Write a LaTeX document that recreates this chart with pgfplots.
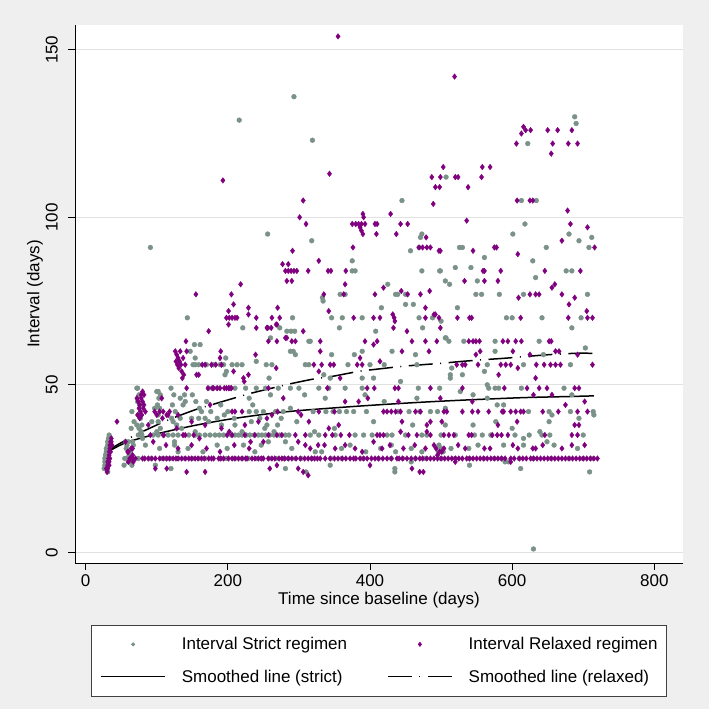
\documentclass[border=0pt]{standalone}
\usepackage{pgfplots}
\pgfplotsset{compat=1.18}
\usepackage{fontspec}
\setmainfont{Liberation Sans}
\definecolor{bgc}{RGB}{239,239,239}
\definecolor{strictc}{RGB}{122,146,136}
\definecolor{relaxc}{RGB}{128,0,128}
\definecolor{gridc}{RGB}{226,226,226}
\newcommand{\fs}{\fontsize{17}{20}\selectfont}
\pgfplotsset{
  lineleg/.style={legend image code/.code={\draw[##1] (0pt,0pt) -- (64pt,0pt);}},
  smarkleg/.style={legend image code/.code={\path[draw=none,fill=none] (0pt,-2pt) rectangle (64pt,2pt);
    \draw[mark repeat=2,mark phase=2,##1,mark size=1.6pt] plot coordinates {(0pt,0pt) (32pt,0pt) (64pt,0pt)};}},
  rmarkleg/.style={legend image code/.code={\path[draw=none,fill=none] (0pt,-2pt) rectangle (64pt,2pt);
    \draw[mark repeat=2,mark phase=2,##1,mark size=2pt] plot coordinates {(0pt,0pt) (32pt,0pt) (64pt,0pt)};}},
}
\begin{document}
\begin{tikzpicture}
\fill[bgc] (0,0) rectangle (709pt,709pt);
\begin{axis}[
  at={(75pt,146pt)}, anchor=south west,
  width=608pt, height=538pt, scale only axis,
  xmin=-15.05, xmax=840.4, ymin=-3.19, ymax=157.4,
  axis x line*=bottom, axis y line*=left,
  axis line style={black, line width=1pt, -},
  axis background/.style={fill=white},
  xtick={0,200,400,600,800}, ytick={0,50,100,150},
  tick align=outside, major tick length=7pt,
  tick style={black, line width=0.9pt},
  minor tick num=0,
  ymajorgrids, grid style={gridc, line width=1pt},
  /pgf/number format/assume math mode=true,
  tick label style={font=\fs},
  yticklabel style={rotate=90, anchor=south, inner sep=0pt},
  xticklabel style={anchor=north, inner sep=0pt},
  xticklabel shift=4pt, yticklabel shift=10pt,
  xlabel={Time since baseline (days)},
  ylabel={Interval (days)},
  label style={font=\fs},
  xlabel style={at={(axis description cs:0.5,-0.0688)}, anchor=center},
  ylabel style={at={(axis description cs:-0.0658,0.5)}, anchor=center},
  legend columns=2, legend cell align=left,
  legend style={at={(0.5,-0.1812)}, anchor=center, draw=black!75, line width=0.8pt,
    fill=white, font=\fs, inner xsep=9pt, inner ysep=12.5pt, row sep=18.5pt,
    nodes={inner sep=0pt},
    /tikz/every odd column/.append style={column sep=16pt},
    /tikz/every even column/.append style={column sep=40pt}},
]
% Strict regimen
\addplot[only marks, mark=*, mark size=2.4pt, color=strictc, smarkleg]
coordinates {
(91,91) (216,129) (256,95) (293,136) (319,123) (318,93) (445,105) (507,112) (613,105) (634,105) (622,122) (688,130) (690,128) (630,1)
(375,87) (375,84) (379,84) (457,90) (469,91) (471,94) (473,95) (473,84) (498,84) (499,84) (520,85) (526,91) (530,91) (542,85) (561,88) (601,95) (618,98) (629,87) (648,91) (676,84) (684,84) (680,95) (694,93) (708,91) (712,94)
(425,80) (436,77) (439,77) (450,77) (450,74) (461,74) (416,73) (333,76) (358,77) (365,77) (334,75) (469,70) (488,70) (506,81) (512,80) (551,81) (633,82) (549,77) (557,77) (582,77) (616,77) (706,77) (523,73) (592,70) (600,70) (642,70) (697,70) (291,70) (346,70) (361,70) (389,70) (143,70)
(221,67) (357,67) (408,66) (474,67) (283,66) (289,66) (294,66) (256,67) (273,67) (260,64) (500,69) (684,67) (507,64) (316,63) (314,63) (153,62) (161,62) (532,63) (506,64) (511,63) (576,63) (638,63)
(147,60) (154,58) (154,56) (159,56) (151,56) (170,56) (180,56) (189,56) (194,56) (206,56) (213,56) (220,56) (197,58) (292,60) (295,59) (288,60) (346,59) (378,59) (389,60) (431,60) (464,59) (309,56) (314,56) (369,56) (400,56) (420,56) (466,56) (515,55) (565,56) (616,56) (682,56) (576,60) (644,59) (703,61) (254,56) (262,56) (240,57)
(196,53) (258,52) (335,53) (344,52) (389,52) (405,52) (443,51) (513,53) (513,52) (530,53) (561,54) (198,54)
(73,49) (173,49) (210,49) (225,49) (240,49) (253,49) (271,49) (288,49) (328,49) (342,49) (365,49) (389,49) (468,49) (498,49) (565,50) (567,49) (576,49) (581,49) (613,49) (673,49) (185,49) (300,49)
(102,48) (105,47) (139,47) (140,45) (308,47) (337,46) (393,47) (466,46) (527,48) (545,47) (565,46) (684,47) (579,44) (588,44) (260,47) (230,46) (420,45)
(65,42) (97,43) (102,41) (163,42) (195,41) (230,42) (240,42) (250,42) (267,42) (278,42) (288,43) (320,42) (338,42) (348,42) (357,42) (367,42) (377,42) (395,42) (485,42) (495,42) (506,43) (623,42) (652,42) (656,41) (682,42) (714,42) (715,41) (694,40) (121,40) (133,40) (149,40) (159,40) (168,40) (440,42) (455,42) (470,42)
(68,39) (64,37) (79,38) (93,39) (135,37) (154,36) (173,39) (191,38) (209,40) (233,39) (252,37) (297,39) (405,39) (506,38) (545,38) (577,39) (652,39) (270,38) (350,37) (460,38) (600,37)
(79,35) (95,35) (102,35) (116,35) (123,35) (130,35) (145,35) (154,35) (168,35) (182,35) (194,35) (210,35) (220,35) (231,35) (243,35) (253,35) (259,35) (281,35) (316,35) (322,36) (328,35) (351,35) (379,35) (391,35) (403,35) (424,35) (431,35) (450,35) (473,35) (547,35) (558,35) (604,35) (616,34) (624,35) (639,36) (642,35) (653,35) (480,35) (500,35) (520,35) (570,35) (700,35)
(60,33) (57,31) (63,30) (67,32) (84,32) (104,31) (125,32) (144,31) (165,30) (185,32) (199,31) (222,32) (238,30) (247,32) (257,33) (281,33) (290,31) (323,30) (332,30) (360,31) (372,32) (394,30) (415,31) (430,32) (436,30) (458,31) (473,30) (496,30) (514,31) (539,31) (552,32) (588,32) (616,32) (649,33) (659,32) (692,31) (500,31) (503,30) (497,32)
(26,25) (27,26) (27,27) (28,28) (28,29) (29,29) (29,30) (30,30) (30,31) (31,32) (31,33) (32,33) (32,34) (33,35) (27,28) (29,31) (30,28) (28,26)
(55,28) (58,28) (60,28) (74,28) (91,28) (107,28) (119,28) (140,28) (159,28) (168,28) (198,28) (210,28) (229,28) (248,28) (268,28) (285,28) (303,28) (318,28) (345,28) (360,28) (390,28) (412,28) (430,28) (446,28) (464,28) (478,28) (500,28) (520,28) (540,28) (560,28) (575,28) (585,28) (610,28) (630,28) (655,28) (680,28) (700,28) (712,28) (590,27) (595,27)
(281,25) (344,26) (435,25) (435,24) (612,25) (709,24) (60,27) (65,26) (98,26) (120,25) (310,24) (458,27) (540,26)
(72,49) (75,47) (73,45) (76,44) (74,41) (77,40) (72,38) (75,37) (78,36) (74,35) (80,34) (56,33) (58,32) (61,29) (64,27) (54,26) (66,33)
(100,48) (103,46) (101,44) (104,43) (102,39) (105,37) (100,36)
(120,49) (124,47) (122,44) (126,42) (123,39) (128,38) (125,33) (130,30) (133,46) (137,44)
(150,47) (155,45) (160,43) (170,45) (176,42) (185,40) (190,44) (200,42) (210,38) (220,36) (235,44) (245,40) (255,38) (265,36) (275,40)
(160,35) (175,35) (188,35) (205,35) (215,35) (226,35) (237,35) (248,35) (265,35) (273,35) (286,35)
(112,28) (130,28) (150,28) (190,28) (220,28) (240,28) (258,28) (278,28) (295,28)
(31,24) (29,27) (33,32) (35,34)
};
\addlegendentry{Interval Strict regimen}
% Relaxed regimen
\addplot[only marks, mark=diamond*, mark size=2.8pt, color=relaxc, rmarkleg]
coordinates {
(355,154) (519,142) (343,113) (193,111) (306,105) (489,104) (503,115) (487,112) (499,112) (520,112) (524,112) (557,112) (558,115) (569,115) (492,109) (498,109) (538,109) (607,105) (625,105) (629,105) (613,125) (616,127) (619,126) (626,126) (606,122) (650,126) (664,126) (684,126) (679,122) (692,122) (657,122) (655,119)
(301,100) (310,98) (390,101) (391,100) (375,98) (380,98) (384,98) (388,98) (393,98) (386,97) (388,96) (390,95) (407,98) (410,98) (429,101) (443,98) (453,98) (409,95) (437,95) (479,94) (678,102) (536,99) (682,98) (706,97)
(469,91) (474,91) (480,91) (485,91) (497,90) (291,90) (376,91) (328,87) (277,86) (285,86) (281,84) (285,84) (289,84) (293,84) (297,84) (283,81) (290,81) (313,84) (341,84) (345,84) (366,84) (499,90) (545,90) (575,91) (578,91) (608,89) (670,93) (716,91) (559,84) (561,84) (584,84) (646,84) (696,84) (533,81) (561,81) (580,81)
(218,80) (155,77) (205,77) (208,74) (229,73) (365,80) (419,79) (444,78) (484,78) (453,77) (471,77) (407,77) (335,77) (363,77) (478,73) (660,80) (656,79) (625,77) (633,77) (638,77) (609,76) (670,77) (688,76) (680,74) (705,72) (270,73) (342,72) (490,71)
(201,72) (198,70) (202,70) (206,70) (210,70) (213,70) (229,71) (240,70) (240,67) (256,67) (173,66) (201,68) (262,70) (273,70) (269,68) (255,67) (261,67) (306,66) (281,64) (478,70) (497,70) (377,70) (405,70) (414,70) (432,71) (434,70) (435,69) (433,67) (452,66) (492,71) (523,70) (540,70) (543,70) (612,70) (679,70) (706,70) (713,70) (499,67) (141,63) (257,63) (269,63) (283,64) (290,63) (295,63) (330,63) (393,63) (405,62) (410,63) (459,63) (478,63) (494,63) (539,63) (545,63) (549,63) (554,63) (587,63) (594,63) (605,63) (613,63) (652,63) (655,63) (268,68)
(126,60) (128,59) (130,58) (132,57) (134,56) (131,55) (135,54) (138,53) (136,52) (129,56) (127,57) (133,60) (137,58) (140,56) (142,60) (156,53) (159,53) (164,56) (168,56) (177,56) (183,56) (191,56) (189,58) (190,60) (239,59) (222,52) (229,53) (223,51) (330,60) (386,58) (445,60) (483,60) (321,56) (332,56) (344,56) (349,56) (382,56) (389,56) (414,57) (328,54) (358,52) (555,60) (549,59) (601,60) (625,59) (661,60) (666,60) (692,59) (522,56) (530,56) (534,56) (552,56) (584,56) (591,56) (598,56) (608,55) (634,56) (645,56) (654,56) (661,56) (668,56) (713,56) (581,53) (633,52) (208,54) (268,55)
(142,49) (180,49) (189,49) (195,49) (201,49) (205,49) (257,49) (396,49) (406,49) (435,49) (440,49) (485,49) (530,49) (589,49) (621,49) (638,49) (649,49) (688,49) (694,49) (82,47) (107,46) (340,49)
(72,46) (74,45) (76,44) (78,46) (80,45) (82,44) (75,43) (77,42) (79,41) (81,43) (84,42) (73,41) (76,40) (78,47) (80,48) (175,44) (278,46) (365,45) (384,45) (499,46) (544,45) (630,47) (656,47) (702,45) (675,44) (397,46) (440,45)
(109,42) (114,41) (130,41) (206,42) (210,42) (220,42) (262,41) (299,42) (303,41) (328,42) (350,42) (419,42) (424,42) (430,42) (436,42) (443,42) (464,42) (471,42) (504,42) (508,42) (530,42) (544,42) (552,42) (567,42) (586,42) (588,42) (598,42) (605,42) (612,42) (616,42) (643,42) (665,42) (692,42) (706,42) (270,42)
(44,39) (88,38) (108,40) (128,37) (149,39) (168,38) (191,37) (202,36) (224,38) (243,39) (255,40) (314,39) (342,37) (356,38) (445,39) (480,38) (485,39) (501,39) (607,39) (688,38) (694,38) (580,38)
(91,35) (109,35) (137,35) (140,35) (152,35) (199,35) (206,35) (224,35) (238,35) (257,35) (269,35) (276,35) (295,35) (309,35) (337,35) (347,35) (359,35) (371,35) (410,35) (414,35) (419,35) (443,36) (454,35) (466,35) (480,36) (485,35) (504,35) (511,35) (518,35) (539,35) (543,35) (572,35) (579,35) (585,35) (594,35) (646,35) (684,35) (692,35)
(56,33) (60,30) (66,31) (95,33) (113,32) (130,31) (149,32) (170,31) (189,30) (209,32) (230,31) (250,33) (299,33) (309,32) (316,31) (327,32) (336,32) (351,31) (365,32) (379,31) (389,30) (405,33) (417,31) (428,32) (447,31) (463,32) (478,31) (490,32) (501,30) (504,31) (524,32) (534,31) (561,31) (569,31) (601,32) (608,31) (629,31) (633,31) (643,32) (670,31) (684,32) (702,32) (495,29) (498,30) (493,31)
(30,24) (31,25) (31,26) (32,27) (32,28) (33,29) (33,30) (34,31) (34,32) (35,33) (36,33) (31,27) (33,27) (29,25)
(63,28) (66,28) (70,28) (83,28) (98,28) (104,28) (109,28) (114,28) (123,28) (130,28) (135,28) (145,28) (149,28) (154,28) (163,28) (173,28) (180,28) (187,28) (194,28) (201,28) (206,28) (215,28) (220,28) (227,28) (234,28) (243,28) (250,28) (257,28) (262,28) (272,28) (280,28) (290,28) (296,28) (308,28) (313,28) (322,28) (330,28) (337,28) (350,28) (355,28) (366,28) (372,28) (380,28) (386,28) (396,28) (402,28) (407,28) (418,28) (424,28) (438,28) (441,28) (452,28) (458,28) (470,28) (474,28) (485,28) (490,28) (495,28) (505,28) (510,28) (515,28) (525,28) (530,28) (536,28) (545,28) (550,28) (555,28) (565,28) (570,28) (580,28) (590,28) (598,28) (603,28) (615,28) (620,28) (626,28) (635,28) (640,28) (645,28) (650,28) (660,28) (665,28) (670,28) (675,28) (685,28) (690,28) (695,28) (705,28) (710,28) (715,28) (720,28)
(98,25) (114,25) (142,24) (168,24) (259,25) (269,26) (299,25) (313,23) (306,24) (459,25) (598,27) (470,24) (475,24) (520,27) (400,26)
(36,34) (37,32) (35,30) (34,28) (33,26) (59,30) (62,28) (64,31) (66,29) (60,27) (67,27)
(97,42) (100,41) (104,42) (118,42) (116,41)
(172,49) (178,49) (185,49) (198,49) (203,49)
(80,28) (88,28) (93,28) (118,28) (127,28) (140,28) (158,28) (167,28) (177,28) (190,28) (210,28) (225,28) (238,28) (247,28) (266,28) (276,28) (285,28) (302,28) (318,28) (326,28) (344,28) (361,28) (377,28) (391,28) (412,28) (430,28) (446,28) (464,28) (480,28) (500,28) (520,28) (540,28) (560,28) (575,28) (585,28) (610,28) (630,28) (655,28) (680,28) (700,28)
(110,35) (160,34) (232,33)
};
\addlegendentry{Interval Relaxed regimen}
% Smoothed strict
\addplot[black, line width=1.5pt, smooth, mark=none, lineleg]
coordinates {(26,29.2) (37,30.7) (60,33) (107,35.7) (154,37.9) (201,39.7) (255,41.3) (300,42.3) (375,43.5) (440,44.4) (499,45.1) (560,45.7) (620,46.2) (680,46.5) (715,46.7)};
\addlegendentry{Smoothed line (strict)}
% Smoothed relaxed
\addplot[black, line width=1.5pt, smooth, mark=none,
  dash pattern=on 24pt off 7.5pt on 1pt off 7.5pt, lineleg]
coordinates {(26,29.4) (40,31.5) (69,34.9) (102,38.2) (123,40.1) (156,42.7) (175,43.9) (210,46.1) (233,47.5) (260,48.9) (290,50.4) (325,51.9) (344,52.4) (384,54) (407,54.6) (450,55.6) (499,56.4) (530,57) (567,57.6) (588,57.9) (628,58.6) (652,59) (689,59.4) (715,59.4)};
\addlegendentry{Smoothed line (relaxed)}
\end{axis}
\end{tikzpicture}
\end{document}
